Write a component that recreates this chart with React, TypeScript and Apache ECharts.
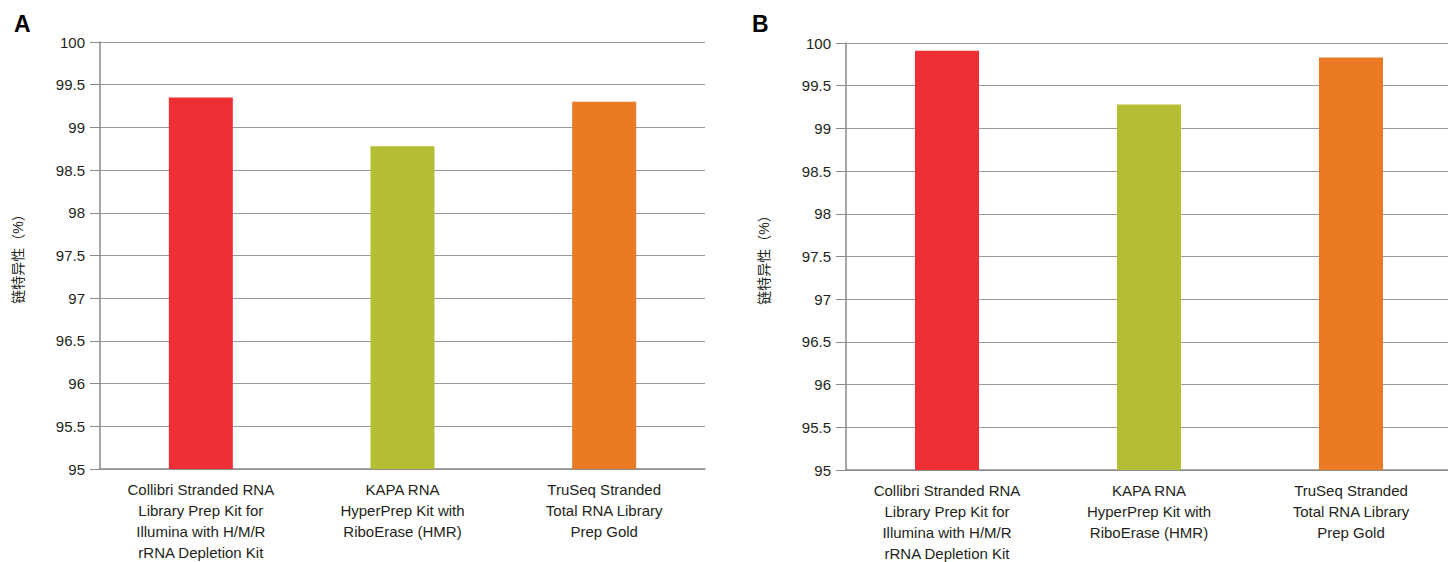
import React, { useEffect, useRef } from "react";
import * as echarts from "echarts";

const categories = [
  "Collibri Stranded RNA\nLibrary Prep Kit for\nIllumina with H/M/R\nrRNA Depletion Kit",
  "KAPA RNA\nHyperPrep Kit with\nRiboErase (HMR)",
  "TruSeq Stranded\nTotal RNA Library\nPrep Gold",
];
const valuesA = [99.35, 98.78, 99.3];
const valuesB = [99.91, 99.28, 99.83];
const barColors = ["#EE3035", "#B4BE35", "#EA7A24"];
const yTicks = { min: 95, max: 100, interval: 0.5 };
const yName = "链特异性（%）";
const panelLabels = ["A", "B"];

const FONT = "'Liberation Sans', 'Noto Sans CJK SC', Arial, sans-serif";

export default function App() {
  const ref = useRef<HTMLDivElement>(null);
  useEffect(() => {
    if (!ref.current) return;
    const chart = echarts.init(ref.current, undefined, { renderer: "svg" });
    const grids = [
      { left: 100, top: 42, width: 605, height: 427, outerBoundsMode: "none", containLabel: false },
      { left: 846, top: 43, width: 606, height: 427, outerBoundsMode: "none", containLabel: false },
    ];
    const xAxis = grids.map((_, i) => ({
      type: "category",
      gridIndex: i,
      data: categories,
      axisLine: { lineStyle: { color: "#8a8a8a", width: 1.5 } },
      axisTick: { show: false },
      axisLabel: {
        interval: 0,
        color: "#231f20",
        fontFamily: FONT,
        fontSize: 15,
        lineHeight: 21,
        margin: 10,
      },
    }));
    const yAxis = grids.map((_, i) => ({
      type: "value",
      gridIndex: i,
      min: yTicks.min,
      max: yTicks.max,
      interval: yTicks.interval,
      name: yName,
      nameLocation: "middle",
      nameGap: 75,
      nameRotate: 90,
      nameTextStyle: { color: "#231f20", fontFamily: FONT, fontSize: 14 },
      axisLine: { show: true, lineStyle: { color: "#8a8a8a", width: 1.5 } },
      axisTick: { show: true, length: 10, lineStyle: { color: "#8a8a8a", width: 1 } },
      splitLine: { show: true, lineStyle: { color: "#9a9a9a", width: 1 } },
      axisLabel: {
        color: "#231f20",
        fontFamily: FONT,
        fontSize: 15,
        margin: 15,
      },
    }));
    const series = [valuesA, valuesB].map((vals, i) => ({
      type: "bar",
      xAxisIndex: i,
      yAxisIndex: i,
      barWidth: 64,
      data: vals.map((v, j) => ({ value: v, itemStyle: { color: barColors[j] } })),
    }));
    chart.setOption({
      animation: false,
      backgroundColor: "#ffffff",
      grid: grids,
      xAxis,
      yAxis,
      series,
      graphic: [
        {
          type: "text",
          left: 14,
          top: 12,
          style: { text: panelLabels[0], font: `bold 23px ${FONT}`, fill: "#000" },
        },
        {
          type: "text",
          left: 752,
          top: 12,
          style: { text: panelLabels[1], font: `bold 23px ${FONT}`, fill: "#000" },
        },
      ],
    });
    return () => chart.dispose();
  }, []);
  return (
    <div
      ref={ref}
      style={{ position: "fixed", left: 0, top: 0, width: 1448, height: 562 }}
    />
  );
}
